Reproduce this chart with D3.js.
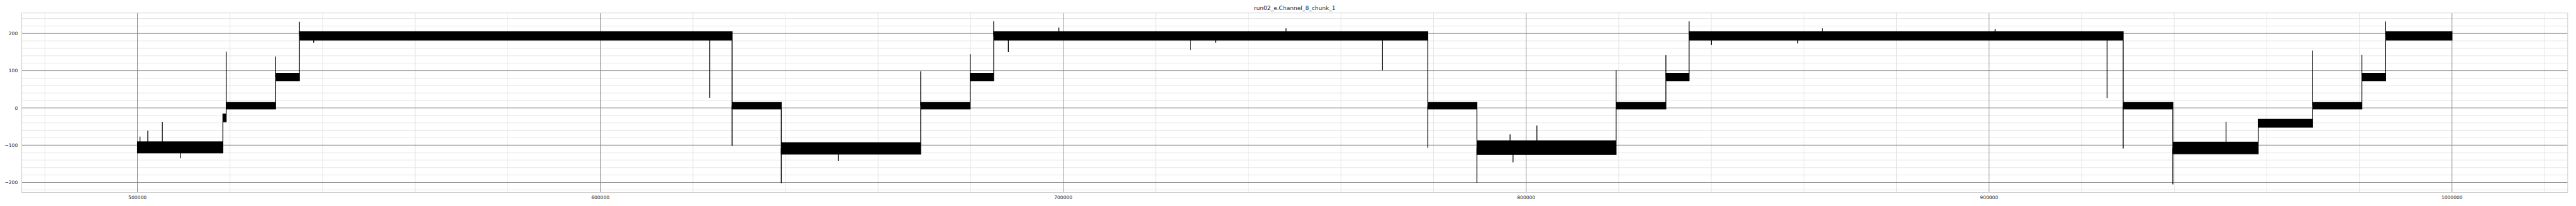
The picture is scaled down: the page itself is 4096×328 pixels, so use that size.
<!DOCTYPE html>
<html>
<head>
<meta charset="utf-8">
<script src="https://cdn.jsdelivr.net/npm/d3@7"></script>
<style>
  html, body { margin: 0; padding: 0; background: #ffffff; }
  svg { display: block; }
  text { font-family: "DejaVu Sans", sans-serif; fill: #262626; }
</style>
</head>
<body>
<svg id="chart" width="4096" height="328"></svg>
<script>
// ---------------- data ----------------
const title = "run02_e.Channel_8_chunk_1";

// level segments of the trace: sample start, sample end, band low, band high
const segStart = [500000, 518455, 519165, 529840, 534990, 628456, 639078, 669202, 679887, 684974,
                  778754, 789362, 819430, 830180, 835200, 928970, 939700, 958140, 969890, 980540, 985670];
const segEnd   = [518455, 519165, 529840, 534990, 628456, 639078, 669202, 679887, 684974, 778754,
                  789362, 819430, 830180, 835200, 928970, 939700, 958140, 969890, 980540, 985670, 1000000];
const segLow   = [-121, -37, -3, 73, 182, -3, -124, -3, 73, 182,
                  -3, -125, -3, 73, 182, -3, -123, -52, -3, 73, 182];
const segHigh  = [-91, -16, 15, 93, 205, 15, -93, 15, 93, 205,
                  15, -88, 15, 93, 205, 15, -92, -30, 15, 93, 205];

// isolated spikes / dips of the trace: sample position and extreme value
const spikeX   = [500546, 502235, 505376, 509315, 519165, 529840, 534990, 538075,
                  623630, 628456, 639078, 651430, 669202, 679887, 684974, 688130,
                  699050, 727518, 732920, 748120, 768970, 778754, 789362, 796520, 797160,
                  802318, 819430, 830180, 835200, 840020, 858660, 863970, 901310,
                  925490, 928970, 939700, 951190, 969890, 980540, 985670];
const spikeVal = [-77, -61, -37.5, -135, 151, 138, 231, 175,
                  27, -101.5, -202, -142, 98.5, 144.6, 233, 150,
                  216, 155, 175, 214, 101, -107, -201, -71, -146,
                  -47, 101, 142, 232.5, 169, 173, 214, 212,
                  26.5, -109, -205, -37, 154, 142.5, 232];

// axis ticks
const xMajorTicks = [500000, 600000, 700000, 800000, 900000, 1000000];
const xMinorTicks = d3.range(480000, 1020001, 20000);
const yMajorTicks = [-200, -100, 0, 100, 200];
const yMinorTicks = d3.range(-220, 241, 20);

// ---------------- layout ----------------
const S = 0.758;
const W = 4096, H = 328;
const pLeft = 45.6 * S, pRight = 5386.3 * S, pTop = 27.3 * S, pBottom = 404.3 * S;

const svg = d3.select("#chart");

// domains: data extent with 5% margins
const xMin = d3.min(segStart), xMax = d3.max(segEnd);
const yMin = Math.min(d3.min(segLow), d3.min(spikeVal));
const yMax = Math.max(d3.max(segHigh), d3.max(spikeVal));
const xPad = (xMax - xMin) * 0.05, yPad = (yMax - yMin) * 0.05;

const x = d3.scaleLinear().domain([xMin - xPad, xMax + xPad]).range([pLeft, pRight]);
const y = d3.scaleLinear().domain([yMin - yPad, yMax + yPad]).range([pBottom, pTop]);

// ---------------- grid ----------------
const grid = svg.append("g");
grid.selectAll("line.xminor").data(xMinorTicks.filter(v => !xMajorTicks.includes(v))).join("line")
  .attr("x1", d => x(d)).attr("x2", d => x(d)).attr("y1", pTop).attr("y2", pBottom)
  .attr("stroke", "#e3e3e3").attr("stroke-width", 0.9);
grid.selectAll("line.yminor").data(yMinorTicks.filter(v => !yMajorTicks.includes(v))).join("line")
  .attr("y1", d => y(d)).attr("y2", d => y(d)).attr("x1", pLeft).attr("x2", pRight)
  .attr("stroke", "#e3e3e3").attr("stroke-width", 0.9);
grid.selectAll("line.xmajor").data(xMajorTicks).join("line")
  .attr("x1", d => x(d)).attr("x2", d => x(d)).attr("y1", pTop).attr("y2", pBottom)
  .attr("stroke", "#858585").attr("stroke-width", 0.9);
grid.selectAll("line.ymajor").data(yMajorTicks).join("line")
  .attr("y1", d => y(d)).attr("y2", d => y(d)).attr("x1", pLeft).attr("x2", pRight)
  .attr("stroke", "#858585").attr("stroke-width", 0.9);

// frame
svg.append("rect")
  .attr("x", pLeft).attr("y", pTop).attr("width", pRight - pLeft).attr("height", pBottom - pTop)
  .attr("fill", "none").attr("stroke", "#d0d0d0").attr("stroke-width", 1);

// ---------------- trace ----------------
const bandPts = [];
segStart.forEach((s, i) => {
  bandPts.push({ x: s, lo: segLow[i], hi: segHigh[i] });
  bandPts.push({ x: segEnd[i], lo: segLow[i], hi: segHigh[i] });
});

const area = d3.area()
  .x(d => x(d.x)).y0(d => y(d.lo)).y1(d => y(d.hi));

svg.append("path")
  .datum(bandPts)
  .attr("d", area)
  .attr("fill", "#000").attr("stroke", "#000").attr("stroke-width", 1.3)
  .attr("stroke-linejoin", "miter");

// spikes: vertical strokes from the band the spike belongs to
function segIndexAt(v) {
  for (let i = 0; i < segStart.length; i++) if (v >= segStart[i] && v < segEnd[i]) return i;
  return segStart.length - 1;
}
const spikes = spikeX.map((sx, i) => {
  const k = segIndexAt(sx);
  const mid = (segLow[k] + segHigh[k]) / 2;
  return { x: sx, from: mid, to: spikeVal[i] };
});
svg.append("g").selectAll("line").data(spikes).join("line")
  .attr("x1", d => x(d.x)).attr("x2", d => x(d.x))
  .attr("y1", d => y(d.from)).attr("y2", d => y(d.to))
  .attr("stroke", "#000").attr("stroke-width", 1.3);

// ---------------- labels ----------------
const fmt = d3.format("d");
svg.append("g").selectAll("text").data(xMajorTicks).join("text")
  .attr("x", d => x(d)).attr("y", 418 * S)
  .attr("text-anchor", "middle").attr("font-size", 10 * S)
  .text(d => fmt(d));

svg.append("g").selectAll("text").data(yMajorTicks).join("text")
  .attr("x", 37.3 * S).attr("y", d => y(d) + 3.6 * S)
  .attr("text-anchor", "end").attr("font-size", 10 * S)
  .text(d => fmt(d));

svg.append("text")
  .attr("x", (pLeft + pRight) / 2).attr("y", 21.5 * S)
  .attr("text-anchor", "middle").attr("font-size", 12 * S)
  .text(title);
</script>
</body>
</html>
